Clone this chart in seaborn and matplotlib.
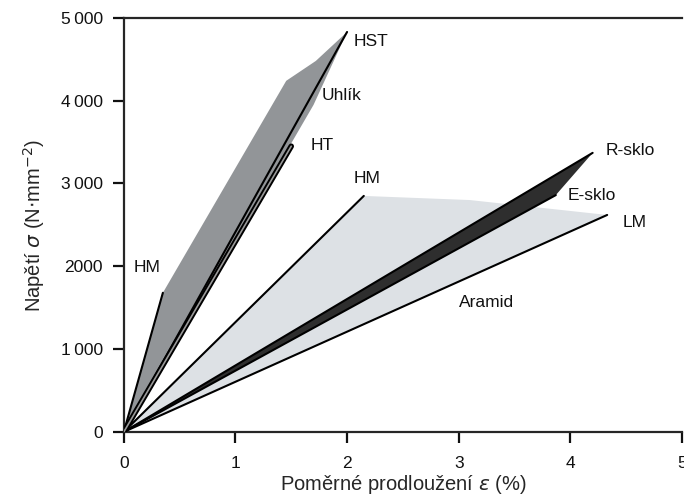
import matplotlib
import matplotlib.pyplot as plt
import pandas as pd
import seaborn as sns

matplotlib.use("Agg")

# Čáry (přímky z počátku) - koncové body [poměrné prodloužení %, napětí N/mm2]
LINE_NAMES = ["HM_uhlik", "HST", "HM_aramid", "LM", "R-sklo", "E-sklo"]
LINE_X_END = [0.35, 2.0, 2.15, 4.33, 4.2, 3.87]
LINE_Y_END = [1680, 4830, 2850, 2620, 3370, 2860]

# HT uhlík (dvojitá čára)
HT_X = [0, 1.5]
HT_Y = [0, 3450]

# Oblast uhlíku (šedá)
UHLIK_X = [0, 0.35, 1.455, 1.72, 2.0, 1.70, 0]
UHLIK_Y = [0, 1680, 4240, 4480, 4830, 3950, 0]

# Oblast aramidu (světlá)
ARAMID_X = [0, 2.15, 3.1, 4.33, 0]
ARAMID_Y = [0, 2850, 2800, 2620, 0]

# Oblast skla (tmavá)
SKLO_X = [0, 4.2, 3.87, 0]
SKLO_Y = [0, 3370, 2860, 0]

# Popisky
LABELS = ["HST", "Uhlík", "HT", "HM", "R-sklo", "E-sklo", "LM", "Aramid", "HM"]
LABEL_X = [2.06, 1.77, 1.67, 2.06, 4.32, 3.98, 4.47, 3.0, 0.09]
LABEL_Y = [4720, 4060, 3460, 3060, 3400, 2860, 2530, 1565, 1990]

X_TICKS = [0, 1, 2, 3, 4, 5]
Y_TICKS = [0, 1000, 2000, 3000, 4000, 5000]
Y_TICK_LABELS = ["0", "1\u2009000", "2000", "3\u2009000", "4\u2009000", "5\u2009000"]

sns.set_theme(style="ticks")
plt.rcParams.update({
    "font.family": ["Liberation Sans", "DejaVu Sans"],
    "mathtext.fontset": "dejavusans",
    "axes.linewidth": 1.6,
    "xtick.major.width": 1.6,
    "ytick.major.width": 1.6,
    "xtick.major.size": 8,
    "ytick.major.size": 8,
})

fig = plt.figure(figsize=(6.84, 4.97), dpi=100)
fig.patch.set_facecolor("white")
ax = fig.add_axes([0.181, 0.131, 0.816, 0.833])

ax.fill(UHLIK_X, UHLIK_Y, color="#929598", lw=0, zorder=1)
ax.fill(ARAMID_X, ARAMID_Y, color="#dde1e5", lw=0, zorder=1)
ax.fill(SKLO_X, SKLO_Y, color="#2e2e2e", lw=0, zorder=2)

lines = pd.DataFrame({
    "name": [n for n in LINE_NAMES for _ in range(2)],
    "x": [v for xe in LINE_X_END for v in (0, xe)],
    "y": [v for ye in LINE_Y_END for v in (0, ye)],
})
sns.lineplot(data=lines, x="x", y="y", units="name", estimator=None,
             color="black", linewidth=1.5, ax=ax, zorder=3)

sns.lineplot(x=HT_X, y=HT_Y, color="black", linewidth=4.0, ax=ax, zorder=3)
sns.lineplot(x=HT_X, y=HT_Y, color="#9a9a9a", linewidth=1.2, ax=ax, zorder=4)

for txt, lx, ly in zip(LABELS, LABEL_X, LABEL_Y):
    ax.text(lx, ly, txt, fontsize=12.5, ha="left", va="center", color="#111111")

ax.set_xlim(0, 5)
ax.set_ylim(0, 5000)
ax.set_xticks(X_TICKS)
ax.set_yticks(Y_TICKS)
ax.set_yticklabels(Y_TICK_LABELS)
ax.tick_params(labelsize=12.5, colors="#111111")
ax.tick_params(axis="x", pad=9)
ax.tick_params(axis="y", pad=7)

ax.set_xlabel(r"Poměrné prodloužení $\varepsilon$ (%)", fontsize=14.5, labelpad=2)
ax.set_ylabel(r"Napětí $\sigma$ (N$\cdot$mm$^{-2}$)", fontsize=14.5, labelpad=10)

ax.spines["right"].set_visible(False)
ax.spines["top"].set_visible(True)

fig.savefig("out.png", dpi=100, facecolor="white")
plt.close(fig)
